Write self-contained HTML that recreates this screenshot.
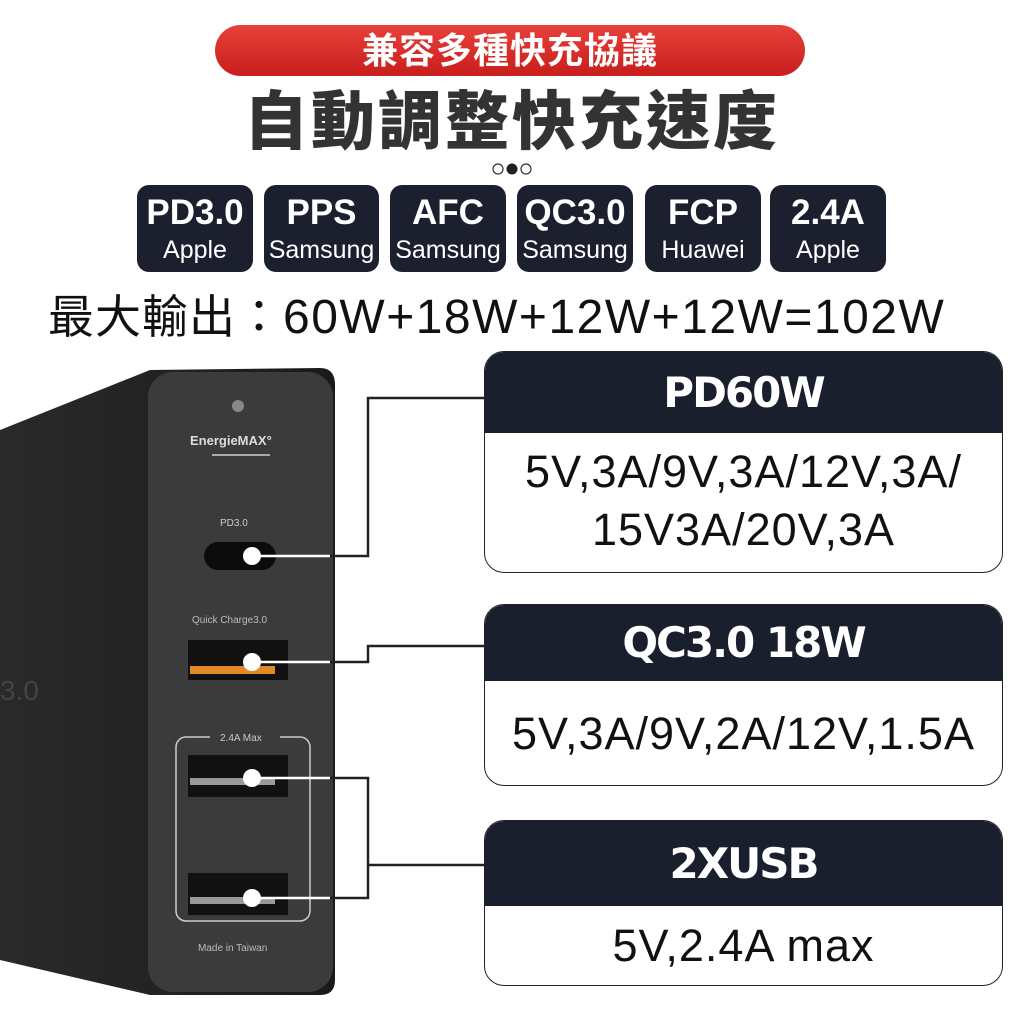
<!DOCTYPE html>
<html><head><meta charset="utf-8"><style>
*{margin:0;padding:0;box-sizing:border-box}
body{width:1024px;height:1024px;background:#fff;position:relative;overflow:hidden;font-family:"Liberation Sans","Noto Sans CJK TC",sans-serif}
.a{position:absolute}
.pill{left:215px;top:25px;width:590px;height:51px;border-radius:26px;background:linear-gradient(#e8403a,#c81e1c);color:#fff;font-size:36px;text-align:center;line-height:51px;font-weight:bold;letter-spacing:1px}
.title{left:0;width:1024px;top:84px;text-align:center;font-size:64px;font-weight:900;color:#333;letter-spacing:3px;line-height:76px}
.b{top:185px;height:87px;background:#1c1f2e;border-radius:12px;color:#fff;text-align:center}
.b .t{font-size:35px;font-weight:bold;line-height:44px;margin-top:6px}
.b .s{font-size:25px;line-height:30px}
.max{left:48px;top:288px;font-size:46px;color:#111;line-height:58px;white-space:nowrap}
.box{left:484px;width:519px;border:1.5px solid #222;border-radius:20px;overflow:hidden;background:#fff}
.hd{background:#1a1f2d;color:#fff;text-align:center;font-weight:900;font-family:"DejaVu Sans","Liberation Sans",sans-serif;letter-spacing:-2px}
.bd{text-align:center;color:#111;font-size:45px;letter-spacing:1px}
</style></head><body>
<div class="a pill">兼容多種快充協議</div>
<div class="a title">自動調整快充速度</div>
<svg class="a" style="left:490px;top:161px" width="45" height="16"><circle cx="8" cy="8" r="5" fill="none" stroke="#333" stroke-width="1.2"/><circle cx="22" cy="8" r="5.5" fill="#222"/><circle cx="36" cy="8" r="5" fill="none" stroke="#333" stroke-width="1.2"/></svg>
<div class="a b" style="left:137px;width:116px"><div class="t">PD3.0</div><div class="s">Apple</div></div>
<div class="a b" style="left:264px;width:115px"><div class="t">PPS</div><div class="s">Samsung</div></div>
<div class="a b" style="left:390px;width:116px"><div class="t">AFC</div><div class="s">Samsung</div></div>
<div class="a b" style="left:517px;width:116px"><div class="t">QC3.0</div><div class="s">Samsung</div></div>
<div class="a b" style="left:645px;width:116px"><div class="t">FCP</div><div class="s">Huawei</div></div>
<div class="a b" style="left:770px;width:116px"><div class="t">2.4A</div><div class="s">Apple</div></div>
<div class="a max"><span style="letter-spacing:1px">最大輸出：</span><span style="font-size:48px;letter-spacing:1.5px">60W+18W+12W+12W=102W</span></div>

<svg class="a" style="left:0;top:360px" width="484" height="650">
<defs><linearGradient id="g" x1="0" x2="1"><stop offset="0" stop-color="#2a2a2a"/><stop offset="1" stop-color="#1a1a1a"/></linearGradient></defs>
<path d="M0 70 L150 10 L320 8 Q335 8 335 25 L335 620 Q335 635 320 635 L150 635 L0 600 Z" fill="url(#g)"/>
<rect x="148" y="12" width="185" height="620" rx="25" fill="#3b3b3b"/>
<circle cx="238" cy="46" r="6" fill="#888"/>
<text x="190" y="85" font-size="13" fill="#ddd" font-weight="bold" font-family="Liberation Sans">EnergieMAX°</text>
<rect x="212" y="94" width="58" height="2" fill="#aaa"/>
<text x="220" y="166" font-size="10" fill="#ccc" font-family="Liberation Sans">PD3.0</text>
<rect x="204" y="182" width="72" height="28" rx="14" fill="#0c0c0c"/>
<text x="192" y="263" font-size="10" fill="#bbb" font-family="Liberation Sans">Quick Charge3.0</text>
<rect x="188" y="280" width="100" height="40" fill="#111"/><rect x="190" y="306" width="85" height="8" fill="#e08a2a"/>
<rect x="176" y="377" width="134" height="184" rx="10" fill="none" stroke="#ccc" stroke-width="1.5"/>
<rect x="210" y="370" width="70" height="14" fill="#3b3b3b"/><text x="220" y="381" font-size="10" fill="#ccc" font-family="Liberation Sans">2.4A Max</text>
<rect x="188" y="395" width="100" height="42" fill="#111"/><rect x="190" y="418" width="85" height="7" fill="#999"/>
<rect x="188" y="513" width="100" height="42" fill="#111"/><rect x="190" y="537" width="85" height="7" fill="#999"/>
<text x="198" y="591" font-size="10" fill="#bbb" font-family="Liberation Sans">Made in Taiwan</text>
<text x="0" y="340" font-size="28" fill="#444" font-family="Liberation Sans">3.0</text>
<g fill="#fff"><circle cx="252" cy="196" r="9"/><circle cx="252" cy="302" r="9"/><circle cx="252" cy="418" r="9"/><circle cx="252" cy="538" r="9"/></g>
<g stroke="#fff" stroke-width="2.5" fill="none"><path d="M252 196H330"/><path d="M252 302H330"/><path d="M252 418H330"/><path d="M252 538H330"/></g>
<g stroke="#222" stroke-width="2.5" fill="none"><path d="M330 196H368V38H484"/><path d="M330 302H368V286H484"/><path d="M330 418H368V538H330"/><path d="M368 505H484"/></g>
</svg>

<div class="a box" style="top:351px;height:222px">
<div class="hd" style="height:81px;line-height:81px;font-size:42px">PD60W</div>
<div class="bd" style="line-height:58px;padding-top:10px">5V,3A/9V,3A/12V,3A/<br>15V3A/20V,3A</div></div>
<div class="a box" style="top:604px;height:182px">
<div class="hd" style="height:76px;line-height:76px;font-size:42px">QC3.0 18W</div>
<div class="bd" style="line-height:106px">5V,3A/9V,2A/12V,1.5A</div></div>
<div class="a box" style="top:820px;height:166px">
<div class="hd" style="height:85px;line-height:85px;font-size:42px">2XUSB</div>
<div class="bd" style="line-height:80px">5V,2.4A max</div></div>
</body></html>
